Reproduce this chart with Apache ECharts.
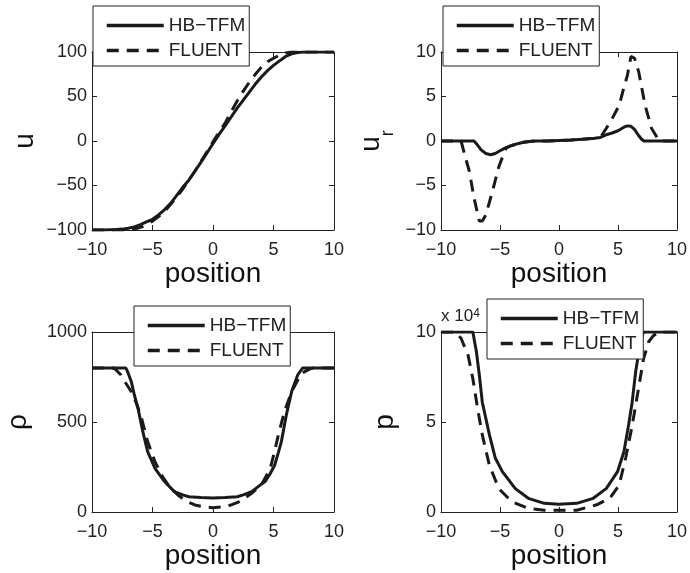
<!DOCTYPE html>
<html><head><meta charset="utf-8">
<script src="https://cdn.jsdelivr.net/npm/echarts@6/dist/echarts.min.js"></script>
<style>html,body{margin:0;padding:0;background:#fff}#c{width:690px;height:573px}</style>
</head><body><div id="c"></div>
<script>
// ---------- data ----------
const xTicks = [-10, -5, 0, 5, 10];
const seriesNames = ['HB\u2212TFM', 'FLUENT'];

// Panel 1: u
const u_hb_pos = [-10,-9,-8,-7.5,-7,-6.5,-6,-5.5,-5,-4.5,-4,-3.5,-3,-2.5,-2,-1.5,-1,-0.5,0,0.5,1,1.5,2,2.5,3,3.5,4,4.5,5,5.5,6,6.5,7,7.5,8,9,10];
const u_hb_val = [-100,-100,-99.5,-99,-98,-96.5,-94,-91,-88,-83,-77,-70,-61,-52,-44,-34,-24,-13.5,-3,7.5,17,27,37,46,55,64,72,79,85,90,95,98,99.5,100,100,100,100];
const u_fl_pos = [-10,-8,-7,-6.5,-6,-5.5,-5,-4.5,-4,-3.5,-3,-2.5,-2,-1.5,-1,-0.5,0,0.5,1,1.5,2,2.5,3,3.5,4,4.5,5,5.5,6,6.5,7,8,10];
const u_fl_val = [-100,-100,-100,-99,-97,-94,-90,-85,-79,-71,-63,-54,-44,-34,-23,-12,-1,10,20,33,45,56,66,75,83,89,93,96.5,99,100,100,100,100];

// Panel 2: u_r
const ur_hb_pos = [-10,-7.2,-7,-6.6,-6.2,-5.8,-5.4,-5,-4.5,-4,-3.5,-3,-2.5,-2,-1,0,1,2,3,3.5,4,4.5,5,5.5,5.8,6.1,6.4,6.7,7,7.2,10];
const ur_hb_val = [0,0,-0.3,-1.0,-1.4,-1.55,-1.4,-1.1,-0.75,-0.5,-0.3,-0.15,-0.05,0,0,0.05,0.1,0.2,0.3,0.4,0.7,0.9,1.15,1.55,1.7,1.65,1.3,0.7,0.2,0,0];
const ur_fl_pos = [-10,-8.3,-8,-7.6,-7.2,-6.75,-6.5,-6.2,-5.65,-5.1,-4.5,-4,-3.5,-3,-2.5,-2,-1,0,1,2,3,3.5,4,4.5,5.1,5.5,5.8,6.1,6.4,6.75,7.3,7.85,8.5,10];
const ur_fl_val = [0,0,-1.5,-3.4,-6.4,-9.0,-9.0,-8.3,-5.7,-2.9,-0.8,-0.5,-0.3,-0.15,-0.05,0,0,0.05,0.1,0.2,0.3,0.4,1.4,2.5,4.0,6.0,7.4,9.5,9.3,7.8,4.0,1.4,0,0];

// Panel 3: rho
const rho_hb_pos = [-10,-7.2,-7,-6.75,-6.5,-6.2,-5.8,-5.4,-4.8,-4,-3.2,-2.5,-2,-1,0,1,2,2.5,3.2,4,4.3,4.7,5.1,5.4,5.65,6.06,6.5,7,7.4,10];
const rho_hb_val = [800,800,770,724,650,576,446,335,243,169,113,95,85,80,78,80,85,95,113,155,169,210,261,330,391,539,669,761,800,800];
const rho_fl_pos = [-10,-8.3,-8.1,-7.6,-7.2,-6.75,-6.3,-5.9,-5.4,-4.8,-4.2,-3.7,-2.9,-2.2,-1.5,-0.7,0,0.7,1.5,2.1,2.6,3.3,4,4.4,4.8,5.1,5.4,5.9,6.5,7.3,8.1,8.3,10];
const rho_fl_val = [800,800,795,761,715,668,600,520,391,280,200,150,94,60,39,28,24,28,39,55,76,110,150,200,261,340,428,557,669,770,798,800,800];

// Panel 4: p
const p_hb_pos = [-10,-7.3,-7,-6.75,-6.5,-5.9,-5.4,-4.8,-3.7,-2.6,-1.24,0,1.5,2.9,4,4.96,5.5,5.9,6.2,6.5,6.9,7.16,10];
const p_hb_val = [100000,100000,89000,76000,61000,43000,30000,22400,13000,7600,4800,4300,4800,7600,13000,22400,33500,48300,61000,78000,94600,100000,100000];
const p_fl_pos = [-10,-8.8,-8.3,-7.7,-7.3,-6.9,-6.5,-5.9,-5.1,-4,-2.6,-1.24,0,1.5,3.2,4.3,5.1,5.65,6.2,6.75,7.16,7.6,8,8.5,10];
const p_fl_val = [100000,100000,96500,87000,74000,57600,42800,26000,13000,5700,2000,1000,1000,1000,4000,7600,15000,30000,48000,69000,85000,94600,98000,100000,100000];

// ---------- chart ----------
const FONT = '"Liberation Sans", Arial, sans-serif';
const INK = '#1a1a1a';
const zip = (a, b) => a.map((v, i) => [v, b[i]]);
const minus = v => String(v).replace('-', '\u2212');

const grids = [
  {left: 92, top: 52, width: 242, height: 178},
  {left: 441, top: 52, width: 242, height: 178},
  {left: 92, top: 332, width: 242, height: 180},
  {left: 441, top: 332, width: 242, height: 180}
];
const yCfg = [
  {min: -100, max: 100, interval: 50, name: 'u', gap: 53, fmt: minus},
  {min: -10, max: 10, interval: 5, name: '{m|u}{s|r}', gap: 44, fmt: minus},
  {min: 0, max: 1000, interval: 500, name: '\u03c1', gap: 60, fmt: minus},
  {min: 0, max: 100000, interval: 50000, name: 'p', gap: 42, fmt: v => String(v / 10000)}
];
const data = [
  [zip(u_hb_pos, u_hb_val), zip(u_fl_pos, u_fl_val)],
  [zip(ur_hb_pos, ur_hb_val), zip(ur_fl_pos, ur_fl_val)],
  [zip(rho_hb_pos, rho_hb_val), zip(rho_fl_pos, rho_fl_val)],
  [zip(p_hb_pos, p_hb_val), zip(p_fl_pos, p_fl_val)]
];
const legendPos = [
  {left: 93, top: 6}, {left: 443, top: 6}, {left: 134, top: 306}, {left: 487, top: 299}
];

const axisLine = {show: true, onZero: false, lineStyle: {color: '#222', width: 1}};
const tick = {show: true, inside: true, length: 5, lineStyle: {color: '#222', width: 1}};
const xAxes = [], yAxes = [], series = [], legends = [];
grids.forEach((g, i) => {
  xAxes.push({
    gridIndex: i, type: 'value', min: -10, max: 10, interval: 5, position: 'bottom',
    axisLine, axisTick: tick, splitLine: {show: false},
    axisLabel: {fontSize: 18, color: '#222', fontFamily: FONT, margin: 11, formatter: minus},
    name: 'position', nameLocation: 'middle', nameGap: 26,
    nameTextStyle: {fontSize: 28, color: '#111', fontFamily: FONT}
  });
  xAxes.push({
    gridIndex: i, type: 'value', min: -10, max: 10, interval: 5, position: 'top',
    axisLine, axisTick: tick, splitLine: {show: false}, axisLabel: {show: false}
  });
  const y = yCfg[i];
  yAxes.push({
    gridIndex: i, type: 'value', min: y.min, max: y.max, interval: y.interval, position: 'left',
    axisLine, axisTick: tick, splitLine: {show: false},
    axisLabel: {fontSize: 18, color: '#222', fontFamily: FONT, margin: 5, formatter: y.fmt},
    name: y.name, nameLocation: 'middle', nameGap: y.gap, nameRotate: 90,
    nameTextStyle: {fontSize: 28, color: '#111', fontFamily: FONT,
      rich: {m: {fontSize: 28, color: '#111', fontFamily: FONT, padding: [0, 0, 12, 0], verticalAlign: 'bottom'},
             s: {fontSize: 18, color: '#111', fontFamily: FONT, verticalAlign: 'bottom'}}}
  });
  yAxes.push({
    gridIndex: i, type: 'value', min: y.min, max: y.max, interval: y.interval, position: 'right',
    axisLine, axisTick: tick, splitLine: {show: false}, axisLabel: {show: false}
  });
  series.push({
    type: 'line', name: seriesNames[0], xAxisIndex: 2 * i, yAxisIndex: 2 * i,
    data: data[i][0], symbol: 'none', z: 3,
    lineStyle: {color: INK, width: 3, type: 'solid'}, itemStyle: {color: INK}
  });
  series.push({
    type: 'line', name: seriesNames[1], xAxisIndex: 2 * i, yAxisIndex: 2 * i,
    data: data[i][1], symbol: 'none', z: 3,
    lineStyle: {color: INK, width: 3, type: [12, 8]}, itemStyle: {color: INK}
  });
  legends.push({
    data: seriesNames, orient: 'vertical', left: legendPos[i].left, top: legendPos[i].top,
    itemWidth: 57, itemHeight: 19, itemGap: 6, padding: [10, 4, 6, 12],
    backgroundColor: '#fff', borderColor: '#222', borderWidth: 1, borderRadius: 0,
    selectedMode: false, z: 10,
    itemStyle: {color: 'rgba(0,0,0,0)', borderColor: 'rgba(0,0,0,0)', borderWidth: 0, opacity: 0},
    lineStyle: {width: 3.5, color: INK, type: 'inherit'},
    textStyle: {fontSize: 19, color: '#222', fontFamily: FONT}
  });
});

const chart = echarts.init(document.getElementById('c'), null, {renderer: 'canvas'});
chart.setOption({
  animation: false,
  backgroundColor: '#fff',
  grid: grids,
  xAxis: xAxes,
  yAxis: yAxes,
  legend: legends,
  series: series,
  graphic: [{
    type: 'text', left: 441, top: 308, z: 20,
    style: {text: '{a|x 10}{b|4}', fill: '#222', font: '17px ' + FONT,
      rich: {a: {fontSize: 17, fontFamily: FONT, fill: '#222', verticalAlign: 'bottom'},
             b: {fontSize: 12, fontFamily: FONT, fill: '#222', verticalAlign: 'top'}}}
  }]
});
</script></body></html>
